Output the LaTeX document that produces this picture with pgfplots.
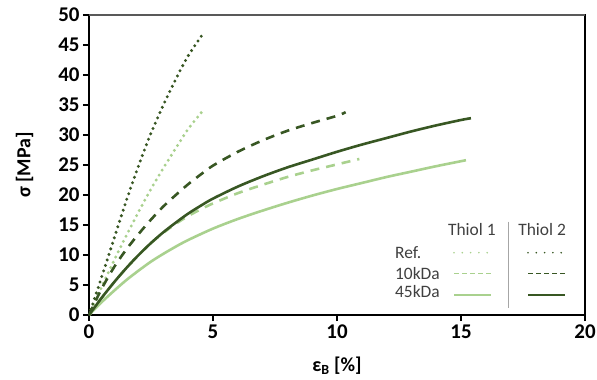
\documentclass[border=0pt]{standalone}
\usepackage{fontspec}
\setmainfont{Carlito}
\usepackage{pgfplots}
\pgfplotsset{compat=1.18}

\definecolor{darkg}{HTML}{385723}
\definecolor{lightg}{HTML}{A9D18E}
\definecolor{legtext}{HTML}{404040}
\definecolor{sepgray}{HTML}{A6A6A6}

\begin{document}
\begin{tikzpicture}
% fixed frame around the plot area
\path[use as bounding box] (-89bp,-65bp) rectangle (508bp,315bp);
\begin{axis}[
  scale only axis,
  width=496bp, height=300bp,
  xmin=0, xmax=20, ymin=0, ymax=50,
  xtick={0,5,...,20}, ytick={0,5,...,50},
  tick align=outside, tick pos=left,
  major tick length=6bp,
  every tick/.style={black, line width=1.4bp},
  axis line style={black, line width=1.8bp},
  /pgf/number format/assume math mode=true,
  ticklabel style={font=\fontsize{21}{21}\selectfont\bfseries},
  xlabel={ε\textsubscript{B} [\%]},
  ylabel={σ [MPa]},
  label style={font=\fontsize{20}{20}\selectfont\bfseries},
  xlabel style={at={(axis description cs:0.5,-0.17)}, anchor=center},
  ylabel style={at={(axis description cs:-0.13,0.5)}, anchor=center},
  legend columns=2,
  legend style={draw=none, fill=none, inner sep=0pt,
    at={(axis cs:14.67,10.57)}, anchor=north west,
    nodes={inner sep=0pt}, row sep=19.5bp,
    /tikz/every even column/.append style={column sep=34bp}},
  legend image code/.code={\draw[#1] (0bp,0bp) -- (37bp,0bp);},
  solidline/.style={smooth, line width=2.6bp, line join=round},
  dashline/.style={smooth, line width=2.6bp, dash pattern=on 9bp off 7bp},
  dotline/.style={smooth, line width=3.3bp, line cap=round, dash pattern=on 0bp off 5.8bp},
]

% Thiol 1, 45 kDa
\addplot[lightg, solidline, forget plot] coordinates {
 (0,0) (0.5,2.1) (1,4.0) (1.5,5.8) (2,7.4) (2.5,8.9) (3,10.2) (3.5,11.4)
 (4,12.5) (5,14.4) (6,16.0) (7,17.4) (8,18.7) (9,19.9) (10,21.0) (11,22.0)
 (12,23.0) (13,23.9) (14,24.8) (15.2,25.8)};
% Thiol 1, 10 kDa
\addplot[lightg, dashline, forget plot] coordinates {
 (0,0) (0.5,2.8) (1,5.4) (1.5,7.8) (2,10.0) (2.5,12.0) (3,13.7) (3.5,15.2)
 (4,16.5) (4.5,17.6) (5,18.6) (6,20.3) (7,21.7) (8,23.0) (9,24.1) (10,25.1)
 (10.9,26.0)};
% Thiol 1, reference
\addplot[lightg, dotline, forget plot] coordinates {
 (0,0) (0.5,4.6) (1,9.0) (1.5,13.2) (2,17.2) (2.5,21.0) (3,24.5) (3.5,27.8)
 (4,31.0) (4.62,34.2)};
% Thiol 2, 45 kDa
\addplot[darkg, solidline, forget plot] coordinates {
 (0,0) (0.5,2.8) (1,5.4) (1.5,7.8) (2,10.0) (2.5,12.0) (3,13.8) (3.5,15.4)
 (4,16.9) (4.5,18.2) (5,19.4) (6,21.4) (7,23.1) (8,24.6) (9,25.9) (10,27.2)
 (11,28.4) (12,29.5) (13,30.6) (14,31.6) (15,32.5) (15.4,32.8)};
% Thiol 2, 10 kDa
\addplot[darkg, dashline, forget plot] coordinates {
 (0,0) (0.5,4.3) (1,7.9) (1.5,10.9) (2,13.5) (2.5,15.9) (3,18.1) (3.5,20.0)
 (4,21.8) (4.5,23.4) (5,24.9) (6,27.2) (7,29.1) (8,30.7) (9,32.0) (10,33.2)
 (10.35,33.8)};
% Thiol 2, reference
\addplot[darkg, dotline, forget plot] coordinates {
 (0,0) (0.5,6.2) (1,12.6) (1.5,19.0) (2,24.9) (2.5,30.3) (3,35.0) (3.5,39.3)
 (4,43.2) (4.62,47.0)};

% legend grid: rows Ref./10kDa/45kDa, columns Thiol 1/Thiol 2
\addlegendimage{lightg, line width=1.8bp, line cap=round, dash pattern=on 0bp off 8.3bp}
\addlegendentry{}
\addlegendimage{darkg, line width=1.8bp, line cap=round, dash pattern=on 0bp off 8.3bp}
\addlegendentry{}
\addlegendimage{lightg, line width=1.3bp, dash pattern=on 4.5bp off 3.5bp}
\addlegendentry{}
\addlegendimage{darkg, line width=1.3bp, dash pattern=on 4.5bp off 3.5bp}
\addlegendentry{}
\addlegendimage{lightg, line width=2bp}
\addlegendentry{}
\addlegendimage{darkg, line width=2bp}
\addlegendentry{}

\begin{scope}[font=\fontsize{17.5}{17.5}\selectfont, text=legtext]
\node at (axis cs:15.44,14.33) {Thiol 1};
\node at (axis cs:18.27,14.33) {Thiol 2};
\node[anchor=west] at (axis cs:12.2,10.38) {Ref.};
\node[anchor=west] at (axis cs:12.2,6.95) {10kDa};
\node[anchor=west] at (axis cs:12.2,3.88) {45kDa};
\end{scope}
\draw[sepgray, line width=1bp] (axis cs:16.91,15.55) -- (axis cs:16.91,1.17);
\draw[color=black!65, line width=1.8bp] (rel axis cs:0,1) -- (rel axis cs:1,1);
\end{axis}
\end{tikzpicture}
\end{document}
